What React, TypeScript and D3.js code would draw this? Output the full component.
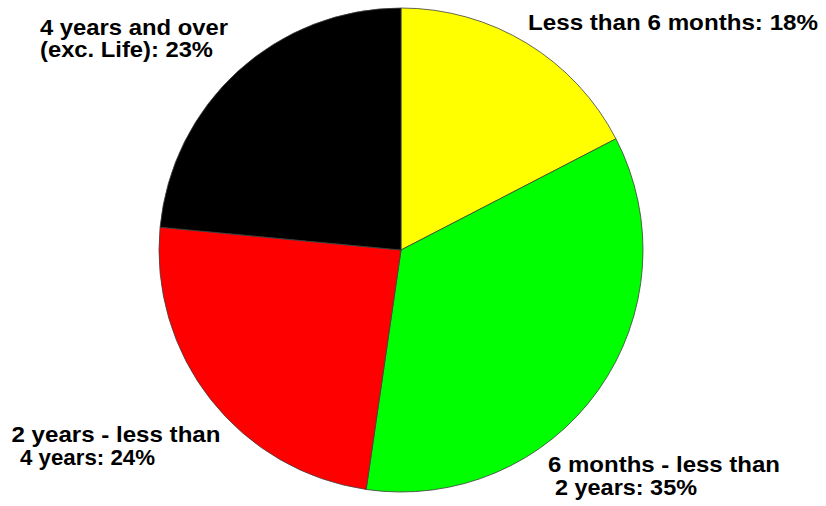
import React from "react";
import * as d3 from "d3";

const categories = [
  "Less than 6 months",
  "6 months - less than 2 years",
  "2 years - less than 4 years",
  "4 years and over (exc. Life)",
];
// slice sizes
const sliceValues = [17.4, 34.9, 24.2, 23.5];
const sliceColors = ["#ffff00", "#00ff00", "#ff0000", "#000000"];

// label lines as printed
const labelLines: string[][] = [
  ["Less than  6 months: 18%"],
  ["6 months - less than", "2 years: 35%"],
  ["2 years - less than", "4 years: 24%"],
  ["4 years and over", "(exc. Life): 23%"],
];
// per-line layout: x start, baseline y, width
const labelLayout: { x: number; y: number; w: number }[][] = [
  [{ x: 528, y: 30, w: 290 }],
  [
    { x: 548, y: 472, w: 232 },
    { x: 555, y: 494.5, w: 142 },
  ],
  [
    { x: 11.5, y: 442, w: 209 },
    { x: 20, y: 465, w: 135 },
  ],
  [
    { x: 40, y: 35, w: 188 },
    { x: 40, y: 57, w: 173 },
  ],
];

export default function App() {
  const W = 826;
  const H = 506;
  const cx = 401;
  const cy = 250;
  const r = 242;
  const pie = d3
    .pie<number>()
    .sort(null)
    .value((d) => d)
    .startAngle(0)
    .endAngle(2 * Math.PI);
  const arcs = pie(sliceValues);
  const arc = d3.arc<d3.PieArcDatum<number>>().innerRadius(0).outerRadius(r);

  return (
    <svg
      width={W}
      height={H}
      style={{ position: "absolute", left: 0, top: 0, background: "#fff" }}
    >
      <g transform={`translate(${cx},${cy})`}>
        {arcs.map((a, i) => (
          <path
            key={categories[i]}
            d={arc(a) || ""}
            fill={sliceColors[i]}
            stroke="#404040"
            strokeWidth={0.8}
          />
        ))}
      </g>
      {labelLines.map((lines, i) =>
        lines.map((t, j) => {
          const L = labelLayout[i][j];
          return (
            <text
              key={`${i}-${j}`}
              x={L.x}
              y={L.y}
              textLength={L.w}
              lengthAdjust="spacingAndGlyphs"
              style={{
                fontFamily: "Liberation Sans, Arial, Helvetica, sans-serif",
                fontWeight: 700,
                fontSize: "22.5px",
              }}
              fill="#000"
            >
              {t}
            </text>
          );
        })
      )}
    </svg>
  );
}
